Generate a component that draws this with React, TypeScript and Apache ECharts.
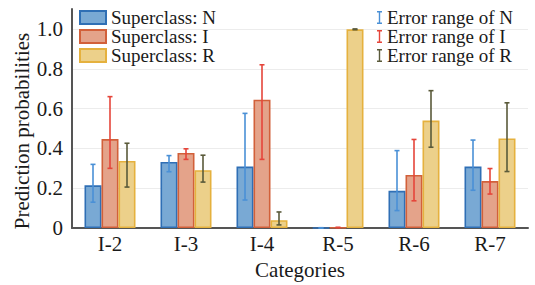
import React, { useEffect, useRef } from "react";
import * as echarts from "echarts";

const categories = ["I-2", "I-3", "I-4", "R-5", "R-6", "R-7"];
const valuesN = [0.215, 0.332, 0.309, 0.001, 0.187, 0.309];
const valuesI = [0.447, 0.377, 0.645, 0.003, 0.267, 0.236];
const valuesR = [0.337, 0.291, 0.04, 0.998, 0.54, 0.45];
const errLowN = [0.13, 0.283, 0.141, 0.0, 0.088, 0.19];
const errHighN = [0.32, 0.364, 0.576, 0.002, 0.389, 0.442];
const errLowI = [0.3, 0.345, 0.345, 0.002, 0.137, 0.171];
const errHighI = [0.66, 0.398, 0.82, 0.004, 0.445, 0.299];
const errLowR = [0.206, 0.231, 0.016, 0.996, 0.406, 0.284];
const errHighR = [0.426, 0.366, 0.081, 1.0, 0.69, 0.629];
const yTicks = [0, 0.2, 0.4, 0.6, 0.8, 1.0];

const FONT = "serif";
const TXT = "#1a1a1a";
const FS = 21;
const LFS = 19;

const barStyles = [
  { name: "Superclass: N", fill: "#79a9d4", border: "#2f6fb5", data: valuesN },
  { name: "Superclass: I", fill: "#e4a38a", border: "#d2603a", data: valuesI },
  { name: "Superclass: R", fill: "#ecd08a", border: "#e5b13e", data: valuesR },
];
const errStyles = [
  { name: "Error range of N", color: "#4a90d6", low: errLowN, high: errHighN, offset: -17 },
  { name: "Error range of I", color: "#e5453a", low: errLowI, high: errHighI, offset: 0 },
  { name: "Error range of R", color: "#5a5a3a", low: errLowR, high: errHighR, offset: 17 },
];

const IBEAM = "path://M0,0H5V1.4H3.2V11.6H5V13H0V11.6H1.8V1.4H0Z";

export default function App() {
  const ref = useRef<HTMLDivElement>(null);
  useEffect(() => {
    if (!ref.current) return;
    const chart = echarts.init(ref.current, undefined, { renderer: "svg" });
    const barSeries = barStyles.map((b) => ({
      name: b.name,
      type: "bar",
      data: b.data,
      barWidth: 17,
      barGap: "0%",
      itemStyle: { color: b.fill, borderColor: b.border, borderWidth: 1.6 },
      z: 2,
    }));
    const errSeries = errStyles.map((e) => ({
      name: e.name,
      type: "custom",
      itemStyle: { color: e.color },
      z: 5,
      data: categories.map((_, i) => [i, e.low[i], e.high[i]]),
      encode: { x: 0, y: [1, 2] },
      renderItem: (params: any, api: any) => {
        const pLow = api.coord([api.value(0), api.value(1)]);
        const pHigh = api.coord([api.value(0), api.value(2)]);
        const x = pLow[0] + e.offset;
        const cap = 2.5;
        const style = { stroke: e.color, lineWidth: 1.6 };
        return {
          type: "group",
          children: [
            { type: "line", shape: { x1: x, y1: pLow[1], x2: x, y2: pHigh[1] }, style },
            { type: "line", shape: { x1: x - cap, y1: pHigh[1], x2: x + cap, y2: pHigh[1] }, style },
            { type: "line", shape: { x1: x - cap, y1: pLow[1], x2: x + cap, y2: pLow[1] }, style },
          ],
        };
      },
    }));
    const legendText = { fontFamily: FONT, fontSize: LFS, color: TXT, lineHeight: 19 };
    chart.setOption({
      animation: false,
      textStyle: { fontFamily: FONT, color: TXT },
      grid: { left: 72, right: 7, top: 9, bottom: 51, containLabel: false },
      legend: [
        {
          data: barStyles.map((b) => b.name),
          orient: "vertical",
          left: 79,
          top: 8,
          itemWidth: 26,
          itemHeight: 13,
          itemGap: 0,
          padding: 0,
          icon: "rect",
          textStyle: legendText,
        },
        {
          data: errStyles.map((e) => ({ name: e.name, icon: IBEAM, itemStyle: { color: e.color } })),
          orient: "vertical",
          left: 377,
          top: 8,
          itemWidth: 5,
          itemHeight: 13,
          itemGap: 0,
          padding: 0,
          textStyle: legendText,
        },
      ],
      xAxis: {
        type: "category",
        data: categories,
        axisLine: { lineStyle: { color: "#555", width: 2 } },
        axisTick: { show: false },
        axisLabel: { fontFamily: FONT, fontSize: FS, color: TXT, margin: 5 },
        name: "Categories",
        nameLocation: "middle",
        nameGap: 25,
        nameTextStyle: { fontFamily: FONT, fontSize: FS, color: TXT, verticalAlign: "top" },
      },
      yAxis: {
        type: "value",
        min: 0,
        max: 1.1,
        interval: 0.2,
        axisLine: { show: true, lineStyle: { color: "#555", width: 2 } },
        axisTick: { show: false },
        axisLabel: {
          fontFamily: FONT,
          fontSize: FS,
          color: TXT,
          margin: 9,
          formatter: (v: number) => {
            const t = yTicks.find((y) => Math.abs(y - v) < 1e-6);
            if (t === undefined) return "";
            return t === 0 ? "0" : t.toFixed(1);
          },
        },
        splitLine: {
          show: true,
          lineStyle: {
            color: ["#ececec", "#ececec", "#ececec", "#ececec", "#ececec", "#ececec", "rgba(0,0,0,0)"],
            width: 1,
          },
        },
      },
      graphic: [
        {
          type: "text",
          x: 22,
          y: 131,
          rotation: Math.PI / 2,
          style: {
            text: "Prediction probabilities",
            fontFamily: FONT,
            fontSize: FS,
            fill: TXT,
            align: "center",
            verticalAlign: "middle",
          },
        },
      ],
      series: [...barSeries, ...errSeries],
    });
    return () => chart.dispose();
  }, []);
  return <div ref={ref} style={{ width: 535, height: 285, position: "absolute", left: 0, top: 0 }} />;
}
